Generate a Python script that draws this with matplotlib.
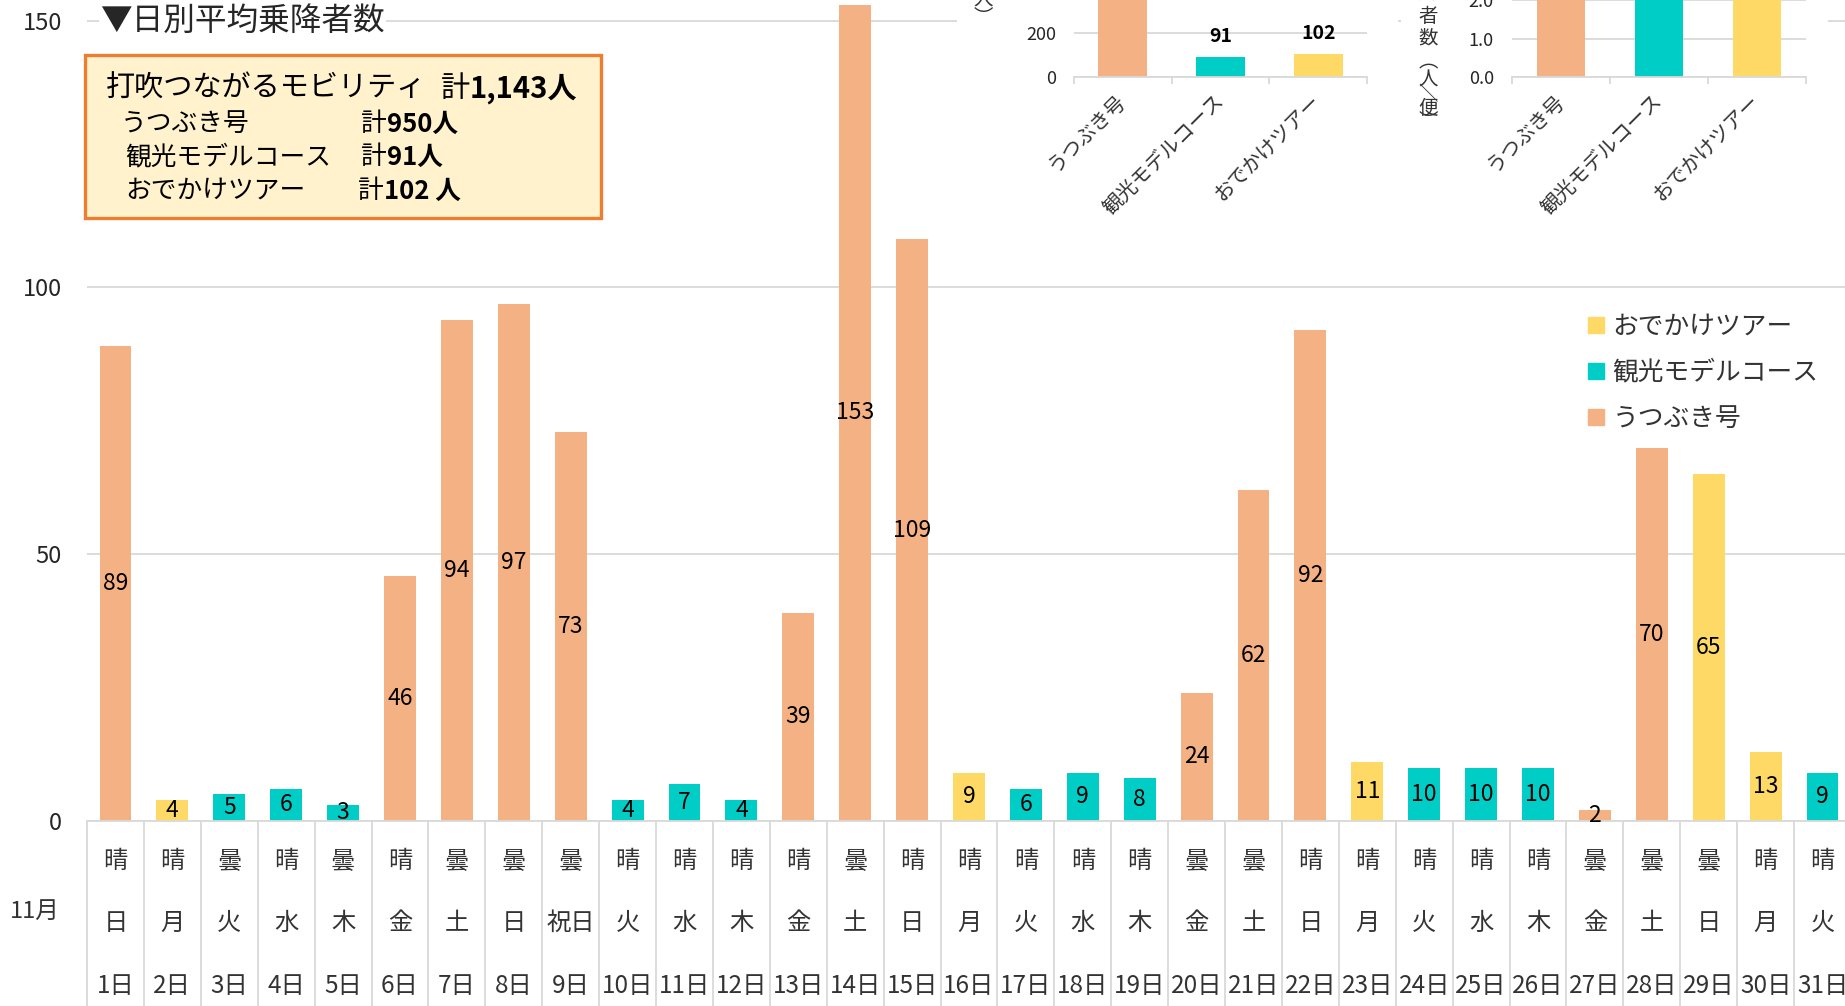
import matplotlib
matplotlib.use('Agg')
import matplotlib.pyplot as plt
from matplotlib.patches import Rectangle
from matplotlib.lines import Line2D
from matplotlib.ticker import FormatStrFormatter
import numpy as np

plt.rcParams['font.family'] = ['Noto Sans CJK JP', 'DejaVu Sans']

# daily data (November)
days = [f'{d}日' for d in range(1, 32)]
weekdays = ['日', '月', '火', '水', '木', '金', '土', '日', '祝日', '火', '水', '木', '金', '土', '日',
            '月', '火', '水', '木', '金', '土', '日', '月', '火', '水', '木', '金', '土', '日', '月', '火']
weather = ['晴', '晴', '曇', '晴', '曇', '晴', '曇', '曇', '曇', '晴', '晴', '晴', '晴', '曇', '晴', '晴',
           '晴', '晴', '晴', '曇', '曇', '晴', '晴', '晴', '晴', '晴', '曇', '曇', '曇', '晴', '晴']
utsubuki = [89, 0, 0, 0, 0, 46, 94, 97, 73, 0, 0, 0, 39, 153, 109, 0,
            0, 0, 0, 24, 62, 92, 0, 0, 0, 0, 2, 70, 0, 0, 0]
kanko = [0, 0, 5, 6, 3, 0, 0, 0, 0, 4, 7, 4, 0, 0, 0, 0,
         6, 9, 8, 0, 0, 0, 0, 10, 10, 10, 0, 0, 0, 0, 9]
odekake = [0, 4, 0, 0, 0, 0, 0, 0, 0, 0, 0, 0, 0, 0, 0, 9,
           0, 0, 0, 0, 0, 0, 11, 0, 0, 0, 0, 0, 65, 13, 0]

# small charts (top right)
routes = ['うつぶき号', '観光モデルコース', 'おでかけツアー']
totals = [950, 91, 102]
per_trip = [3.2, 2.6, 3.0]   # upper part is cut off in the picture

c_u, c_k, c_o = '#F4B183', '#00CEC6', '#FFD966'
route_colors = [c_u, c_k, c_o]
grid_c = '#D9D9D9'
txt_c = '#262626'

W, H = 1845, 1006
def fx(px):
    return px / W
def fy(py):
    return 1 - py / H

fig = plt.figure(figsize=(W / 100, H / 100), dpi=100)

# ---- main chart ----
y0, ytop = 821, -246
ax = fig.add_axes([fx(87), fy(y0), (1851 - 87) / W, (y0 - ytop) / H])
x = np.arange(len(days))
u = np.array(utsubuki)
k = np.array(kanko)
o = np.array(odekake)
b1 = ax.bar(x, u, 0.56, color=c_u, label='うつぶき号')
b2 = ax.bar(x, k, 0.56, bottom=u, color=c_k, label='観光モデルコース')
b3 = ax.bar(x, o, 0.56, bottom=u + k, color=c_o, label='おでかけツアー')
for cont, vals in [(b1, u), (b2, k), (b3, o)]:
    ax.bar_label(cont, labels=[str(v) if v else '' for v in vals], label_type='center',
                 fontsize=16.5, color='black')

ax.set_xlim(-0.5, len(days) - 0.5)
ax.set_ylim(0, 200)
ax.set_yticks([0, 50, 100, 150, 200])
ax.grid(axis='y', color=grid_c, lw=1.3)
ax.set_axisbelow(True)
for s in ['top', 'right', 'left']:
    ax.spines[s].set_visible(False)
ax.spines['bottom'].set_color(grid_c)
ax.spines['bottom'].set_linewidth(1.3)
ax.set_xticks([])
ax.tick_params(axis='y', length=0, pad=18, labelsize=17, labelcolor=txt_c)

# category table below the axis
trans = ax.get_xaxis_transform()
def ay(py):
    return (y0 - py) / (y0 - ytop)
for bnd in np.arange(-0.5, len(days)):
    ax.plot([bnd, bnd], [0, ay(1010)], transform=trans, color=grid_c, lw=1.3, clip_on=False)
for i in range(len(days)):
    ax.text(i, ay(861), weather[i], transform=trans, ha='center', va='center', fontsize=17.5, color='#333333')
    ax.text(i, ay(923), weekdays[i], transform=trans, ha='center', va='center', fontsize=17.5, color='#333333')
    ax.text(i, ay(986), days[i], transform=trans, ha='center', va='center', fontsize=17.5, color='#333333')
fig.text(fx(35), fy(911), '11月', fontsize=17, ha='center', va='center', color='#333333')

# legend
handles = [Line2D([], [], marker='s', ls='none', color=c, markersize=11) for c in [c_o, c_k, c_u]]
fig.legend(handles, ['おでかけツアー', '観光モデルコース', 'うつぶき号'], loc='upper left',
           bbox_to_anchor=(fx(1574), fy(301)), frameon=False, fontsize=18.5,
           handlelength=0.7, handletextpad=0.3, labelspacing=0.78, borderpad=0, labelcolor='#333333')

# title and summary box
fig.text(fx(100), fy(21), '▼日別平均乗降者数', fontsize=22.8, ha='left', va='center', color=txt_c,
         bbox=dict(fc='white', ec='none', pad=1))
fig.add_artist(Rectangle((fx(85), fy(218)), (601 - 85) / W, (218 - 55) / H, transform=fig.transFigure,
                         fc='#FFF2CC', ec='#ED7D31', lw=2.4, zorder=1))
fig.text(fx(106), fy(89), '打吹つながるモビリティ', fontsize=21, va='center', color='black')
fig.text(fx(441), fy(89), '計', fontsize=21, va='center', color='black')
fig.text(fx(470), fy(89), f'{sum(totals):,}人', fontsize=21, va='center', weight='bold', color='black')
for name, tot, yy, xs, xt in zip(routes, totals, [124, 157, 191], [121, 125, 125], [361, 361, 358]):
    fig.text(fx(xs), fy(yy), name, fontsize=18.5, va='center', color='black')
    fig.text(fx(xt), fy(yy), '計', fontsize=18.5, va='center', color='black')
    lab = f'{tot}人' if tot != 102 else f'{tot} 人'
    fig.text(fx(xt + 26), fy(yy), lab, fontsize=18.5, va='center', weight='bold', color='black')

# ---- small charts top right ----
for xa, xb in [(957, 1398), (1401, 1828)]:
    fig.add_artist(Rectangle((fx(xa), fy(235)), (xb - xa) / W, 245 / H, transform=fig.transFigure,
                             fc='white', ec='none', zorder=2))

def small_axes(rect, vals, width, ymax, step, fmt):
    a = fig.add_axes(rect, zorder=3)
    a.patch.set_alpha(0)
    cont = a.bar(range(3), vals, width, color=route_colors)
    a.set_xlim(-0.5, 2.5)
    a.set_ylim(0, ymax)
    a.set_yticks(np.arange(0, ymax + step / 2, step))
    a.yaxis.set_major_formatter(FormatStrFormatter(fmt))
    a.grid(axis='y', color=grid_c, lw=1.3)
    a.set_axisbelow(True)
    for s in ['top', 'right', 'left']:
        a.spines[s].set_visible(False)
    a.spines['bottom'].set_color(grid_c)
    a.spines['bottom'].set_linewidth(1.3)
    a.set_xticks(range(3))
    a.set_xticklabels(routes, rotation=45, ha='right', va='center', rotation_mode='anchor',
                      fontsize=14.5, color='#333333')
    a.set_xticks([-0.5, 0.5, 1.5, 2.5], minor=True)
    a.tick_params(axis='x', which='major', length=0, pad=15)
    a.tick_params(axis='x', which='minor', length=5, color=grid_c, width=1.3)
    a.tick_params(axis='y', length=0, pad=13, labelsize=13, labelcolor=txt_c)
    return a, cont

ax1, cont1 = small_axes([fx(1074), fy(77), 293 / W, 222 / H], totals, 0.5, 1000, 200, '%d')
ax1.bar_label(cont1, labels=[str(v) for v in totals], padding=8, fontsize=14, weight='bold')
ax2, cont2 = small_axes([fx(1512), fy(77), 294 / W, 154 / H], per_trip, 0.48, 4.0, 1.0, '%.1f')

# stacked vertical axis titles of the small charts
for ch, yy in [('人', 0), ('︶', 17)]:
    fig.text(fx(983), fy(yy), ch, fontsize=14, ha='center', va='center', color='#333333')
for ch, yy in [('利', -30), ('用', -7), ('者', 16), ('数', 38), ('︵', 62), ('人', 80), ('＼', 95),
               ('便', 108), ('︶', 121)]:
    fig.text(fx(1428), fy(yy), ch, fontsize=14, ha='center', va='center', color='#333333')

fig.savefig('out.png', dpi=100)
